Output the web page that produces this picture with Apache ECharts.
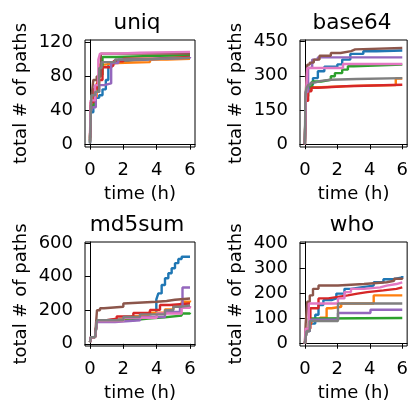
<!DOCTYPE html>
<html>
<head>
<meta charset="utf-8">
<script src="https://cdn.jsdelivr.net/npm/echarts@6/dist/echarts.min.js"></script>
<style>
  html, body { margin: 0; padding: 0; background: #fff; }
  #chart { width: 411px; height: 403px; }
</style>
</head>
<body>
<div id="chart"></div>
<script>
// Cumulative number of explored paths over time, one line per run.
// Each run is a list of [hours, total paths] step points.
const panelNames = ['uniq', 'base64', 'md5sum', 'who'];
const runColors = ['#1f77b4', '#ff7f0e', '#2ca02c', '#d62728', '#9467bd', '#8c564b', '#e377c2', '#7f7f7f'];
const timeTicks = [0, 2, 4, 6];

const uniqTicks = [0, 40, 80, 120];
const uniqRuns = [
  [[0,2],[0.04,38],[0.2,50],[0.35,55],[0.55,58],[0.75,65],[0.95,76],[1.1,97],[1.6,99],[2.6,101],[4.2,102],[6,102]],
  [[0,4],[0.04,44],[0.2,56],[0.4,72],[0.55,94],[0.9,96],[1.6,97],[3.6,100],[4.6,101],[6,101]],
  [[0,3],[0.04,46],[0.25,62],[0.5,82],[0.75,103],[1.6,104],[3.2,105],[6,105]],
  [[0,5],[0.04,50],[0.25,66],[0.45,76],[0.75,91],[1.25,93],[1.4,98],[2.0,101],[4.0,103],[6,103]],
  [[0,2],[0.04,40],[0.15,44],[0.35,62],[0.55,70],[0.85,72],[1.27,96],[1.7,100],[3.0,102],[6,103]],
  [[0,8],[0.08,55],[0.2,76],[0.4,80],[0.65,107],[2.5,107],[6,107]],
  [[0,10],[0.04,52],[0.3,70],[0.5,100],[0.6,107],[1.5,108],[3.0,109],[6,109]],
  [[0,1],[0.08,58],[0.3,62],[0.55,90],[0.7,97],[1.5,100],[3.0,102],[6,102]]
];

const base64Ticks = [0, 150, 300, 450];
const base64Runs = [
  [[0,0],[0.05,180],[0.15,240],[0.3,262],[0.5,290],[0.8,320],[1.2,340],[2.0,350],[2.3,371],[2.8,396],[3.6,408],[4.4,411],[6,411]],
  [[0,0],[0.05,200],[0.15,235],[0.4,250],[1.0,256],[3.0,260],[5.6,288],[6,288]],
  [[0,0],[0.05,210],[0.2,250],[0.45,275],[1.0,283],[1.6,298],[1.85,312],[2.3,327],[2.65,342],[3.0,349],[6,349]],
  [[0,0],[0.05,190],[0.2,232],[0.4,248],[0.8,254],[2.5,261],[6,261]],
  [[0,0],[0.05,230],[0.2,335],[0.45,371],[0.8,381],[6,381]],
  [[0,0],[0.05,220],[0.15,349],[0.3,358],[0.55,371],[0.9,388],[1.6,400],[2.2,408],[2.85,416],[3.1,422],[6,422]],
  [[0,0],[0.05,180],[0.15,334],[2.35,352],[6,352]],
  [[0,0],[0.03,200],[0.06,230],[0.1,246],[0.2,260],[0.35,270],[0.6,278],[1.0,283],[1.6,286],[3.2,290],[6,290]]
];

const md5sumTicks = [0, 200, 400, 600];
const md5sumRuns = [
  [[0,10],[0.05,40],[0.3,50],[0.42,140],[1.0,146],[2.0,160],[3.0,175],[3.6,185],[3.98,265],[4.1,300],[4.3,350],[4.5,390],[4.7,420],[4.9,450],[5.1,480],[5.3,505],[5.5,518],[6,518]],
  [[0,10],[0.05,40],[0.3,50],[0.42,140],[1.5,150],[2.5,165],[3.5,185],[4.5,205],[5.0,225],[5.5,250],[6,258]],
  [[0,10],[0.05,40],[0.3,50],[0.42,135],[1.5,140],[2.5,150],[3.5,158],[4.5,168],[5.5,180],[6,185]],
  [[0,10],[0.05,40],[0.3,50],[0.42,140],[1.0,150],[1.6,163],[2.6,183],[3.6,202],[4.2,231],[4.8,240],[6,240]],
  [[0,10],[0.05,40],[0.3,50],[0.42,130],[1.5,140],[3.0,160],[4.5,190],[5.4,221],[5.55,335],[6,335]],
  [[0,10],[0.05,40],[0.3,50],[0.42,200],[0.6,212],[0.84,221],[2.0,240],[2.1,250],[4.0,255],[4.6,262],[5.1,270],[6,272]],
  [[0,10],[0.05,40],[0.3,50],[0.42,135],[2.0,155],[4.0,180],[5.5,215],[6,225]],
  [[0,10],[0.05,40],[0.3,50],[0.42,140],[2.0,160],[3.0,175],[4.5,200],[5.0,221],[5.5,228],[6,231]]
];

const whoTicks = [0, 100, 200, 300, 400];
const whoRuns = [
  [[0,0],[0.1,50],[0.3,80],[0.64,115],[0.84,154],[1.14,173],[1.64,180],[1.94,199],[2.44,218],[2.84,224],[3.44,231],[4.24,244],[4.84,256],[5.44,263],[6,269]],
  [[0,0],[0.1,50],[0.25,80],[0.4,95],[0.94,103],[1.34,141],[1.64,147],[2.24,160],[4.24,192],[6,192]],
  [[0,0],[0.1,50],[0.24,100],[1.0,102],[6,102]],
  [[0,0],[0.1,60],[0.34,141],[0.84,180],[1.44,186],[2.04,192],[2.64,199],[3.24,205],[3.84,212],[4.84,218],[5.64,224],[6,226]],
  [[0,0],[0.1,50],[0.3,95],[2.04,122],[4.04,135],[6,135]],
  [[0,0],[0.05,80],[0.15,167],[0.3,192],[0.5,218],[0.84,231],[2.04,237],[3.64,244],[5.04,250],[5.5,258],[6,262]],
  [[0,0],[0.05,60],[0.24,160],[2.04,180],[2.44,205],[2.84,218],[3.64,224],[4.64,231],[5.04,237],[5.64,244],[6,244]],
  [[0,0],[0.1,50],[0.3,90],[2.04,160],[6,160]]
];

const panelRuns = [uniqRuns, base64Runs, md5sumRuns, whoRuns];
const panelTicks = [uniqTicks, base64Ticks, md5sumTicks, whoTicks];
// value range of each y axis, with a little padding around the data
const panelYRange = [[-2.8, 123], [-12, 457], [-13, 606], [-9, 404]];
const timeRange = [-0.3, 6.3];

// panel boxes in pixels: [left, top]
const boxes = [[85, 40], [300, 40], [85, 242], [300, 242]];
const boxW = 110, boxH = 107;
const font = 'DejaVu Sans';

const grids = [], xAxes = [], yAxes = [], titles = [], series = [];
boxes.forEach(function (b, i) {
  grids.push({
    left: b[0], top: b[1], width: boxW, height: boxH,
    show: true, borderColor: '#000', borderWidth: 1, backgroundColor: 'transparent'
  });
  titles.push({
    text: panelNames[i], padding: 0,
    left: b[0] + boxW / 2 - 3, top: b[1] - 28, textAlign: 'center',
    textStyle: { fontFamily: font, fontSize: 21.6, fontWeight: 'normal', color: '#000' }
  });
  xAxes.push({
    gridIndex: i, type: 'value', min: timeRange[0], max: timeRange[1],
    name: 'time (h)', nameLocation: 'middle', nameGap: 38,
    nameTextStyle: { fontFamily: font, fontSize: 18, color: '#000' },
    axisLine: { show: true, lineStyle: { color: '#000', width: 1 } },
    axisTick: { show: true, length: 5, lineStyle: { color: '#000', width: 1 }, customValues: timeTicks },
    axisLabel: { fontFamily: font, fontSize: 18, color: '#000', margin: 14, customValues: timeTicks },
    splitLine: { show: false }
  });
  yAxes.push({
    gridIndex: i, type: 'value', min: panelYRange[i][0], max: panelYRange[i][1],
    name: 'total # of paths', nameLocation: 'middle', nameGap: 55,
    nameTextStyle: { fontFamily: font, fontSize: 18, color: '#000' },
    axisLine: { show: true, lineStyle: { color: '#000', width: 1 } },
    axisTick: { show: true, length: 5, lineStyle: { color: '#000', width: 1 }, customValues: panelTicks[i] },
    axisLabel: { fontFamily: font, fontSize: 18, color: '#000', margin: 12, customValues: panelTicks[i] },
    splitLine: { show: false }
  });
  panelRuns[i].forEach(function (run, k) {
    series.push({
      type: 'line', xAxisIndex: i, yAxisIndex: i, data: run,
      step: 'end', showSymbol: false, symbol: 'none', animation: false,
      lineStyle: { color: runColors[k], width: 2.4 },
      itemStyle: { color: runColors[k] },
      z: 2 + k
    });
  });
});

const chart = echarts.init(document.getElementById('chart'), null, { renderer: 'canvas' });
chart.setOption({
  animation: false,
  backgroundColor: '#fff',
  title: titles,
  grid: grids,
  xAxis: xAxes,
  yAxis: yAxes,
  series: series
});
</script>
</body>
</html>
